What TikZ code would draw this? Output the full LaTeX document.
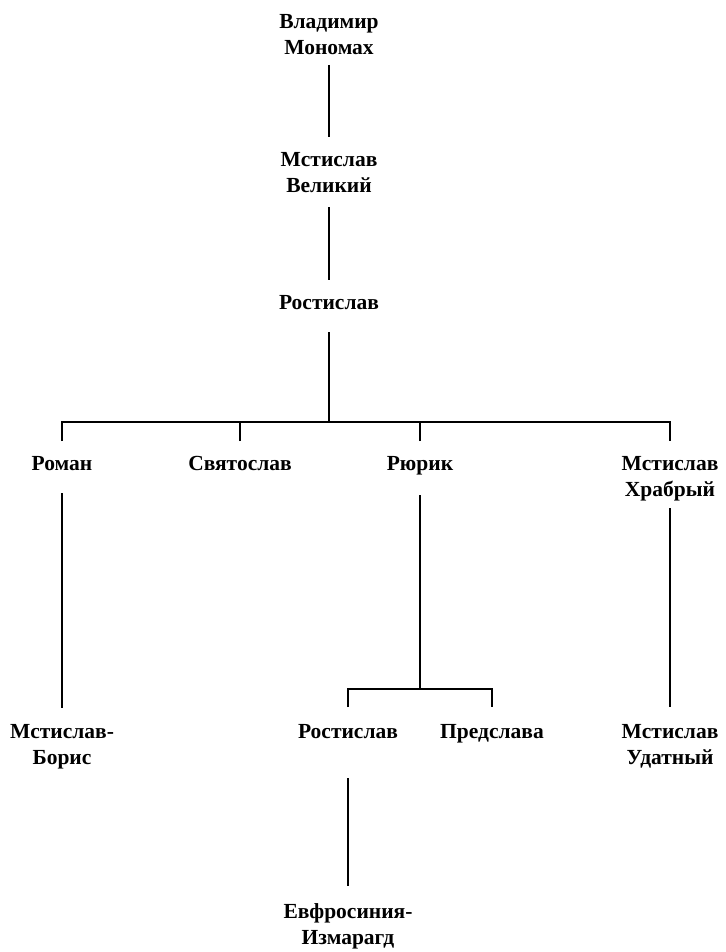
\documentclass[tikz,border=0pt]{standalone}
\usepackage{fontspec}
\setmainfont{Liberation Serif}
\begin{document}
\begin{tikzpicture}[x=1pt,y=-1pt,
  person/.style={anchor=north,inner sep=0pt,align=center,font=\fontsize{21.5}{26}\selectfont\bfseries},
  link/.style={line width=1.8pt}]
\useasboundingbox (0,0) rectangle (725,952);
\node[person] (vm) at (329,14) {Владимир\\Мономах};
\node[person] (mv) at (329,152) {Мстислав\\Великий};
\node[person] (r1) at (329,295) {Ростислав};
\node[person] (roman) at (62,456) {Роман};
\node[person] (svyat) at (240,456) {Святослав};
\node[person] (ruric) at (420,456) {Рюрик};
\node[person] (mh) at (670,456) {Мстислав\\Храбрый};
\node[person] (mb) at (62,724) {Мстислав-\\Борис};
\node[person] (r2) at (348,724) {Ростислав};
\node[person] (pred) at (492,724) {Предслава};
\node[person] (mu) at (670,724) {Мстислав\\Удатный};
\node[person] (ei) at (348,903) {Евфросиния-\\Измарагд};
\coordinate (bar1) at (r1.north |- roman.north);
\draw[link] ([yshift=-51pt]vm.north) -- ([yshift=15pt]mv.north);
\draw[link] ([yshift=-55pt]mv.north) -- ([yshift=15pt]r1.north);
\draw[link] ([yshift=-37pt]r1.north) -- ([yshift=34pt]bar1);
\draw[link] ([yshift=15pt]roman.north) -- ([yshift=34pt]roman.north) -- ([yshift=34pt]mh.north) -- ([yshift=15pt]mh.north);
\draw[link] ([yshift=15pt]svyat.north) -- ([yshift=34pt]svyat.north);
\draw[link] ([yshift=15pt]ruric.north) -- ([yshift=34pt]ruric.north);
\draw[link] ([yshift=-37pt]roman.north) -- ([yshift=16pt]mb.north);
\draw[link] ([yshift=-39pt]ruric.north) -- ([yshift=35pt]ruric.north |- r2.north);
\draw[link] ([yshift=17pt]r2.north) -- ([yshift=35pt]r2.north) -- ([yshift=35pt]pred.north) -- ([yshift=17pt]pred.north);
\draw[link] ([yshift=-52pt]mh.north) -- ([yshift=17pt]mu.north);
\draw[link] ([yshift=-54pt]r2.north) -- ([yshift=17pt]ei.north);
\end{tikzpicture}
\end{document}
